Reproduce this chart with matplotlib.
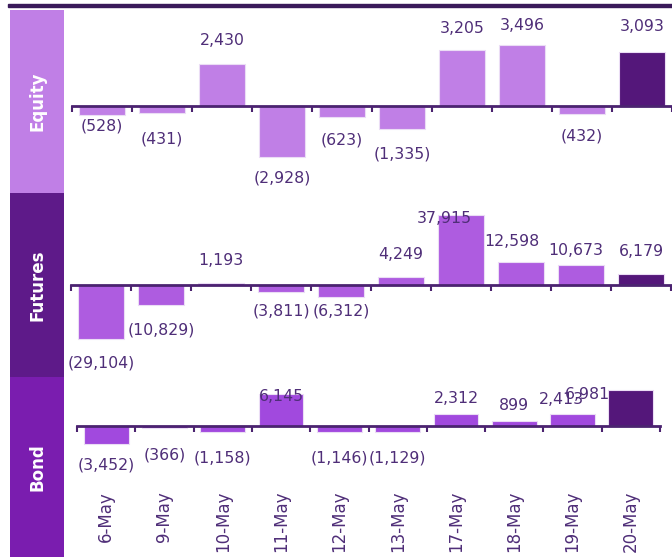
import matplotlib.pyplot as plt
from matplotlib.patches import Rectangle

dates = ['6-May', '9-May', '10-May', '11-May', '12-May',
         '13-May', '17-May', '18-May', '19-May', '20-May']
equity = [-528, -431, 2430, -2928, -623, -1335, 3205, 3496, -432, 3093]
futures = [-29104, -10829, 1193, -3811, -6312, 4249, 37915, 12598, 10673, 6179]
bond = [-3452, -366, -1158, 6145, -1146, -1129, 2312, 899, 2413, 6981]

W, H = 672, 557
TXT = '#4F2E78'
AXC = '#4B2370'
DARK = '#54177A'


def box(x0, y0, x1, y1):
    # pixel box (top-left origin) -> figure fraction rect
    return [x0 / W, 1 - y1 / H, (x1 - x0) / W, (y1 - y0) / H]


def fmt(v):
    return '({:,})'.format(-v) if v < 0 else '{:,}'.format(v)


fig = plt.figure(figsize=(W / 100, H / 100), dpi=100)

# top rule (title is cut off in the original)
fig.patches.append(Rectangle((8 / W, 1 - 7 / H), 664 / W, 3 / H,
                             transform=fig.transFigure, color='#3A1A5A'))

# side panels
panels = [('Equity', 10, 193, '#C07FE6'),
          ('Futures', 193, 377, '#5E1A89'),
          ('Bond', 377, 557, '#7A1DAF')]
for name, y0, y1, col in panels:
    pa = fig.add_axes(box(10, y0, 64, y1))
    pa.set_facecolor(col)
    pa.set_xticks([]); pa.set_yticks([])
    for s in pa.spines.values():
        s.set_visible(False)
    pa.text(0.5, 0.5, name, rotation=90, color='white', fontsize=12,
            fontweight='bold', ha='center', va='center', transform=pa.transAxes)

# label offsets in pixels (dx, dy from bar end), like the original placement
eq_off = [(0, -11), (0, -26), (0, 23), (0, -21), (0, -23), (0, -25),
          (0, 22), (0, 20), (0, -22), (0, 26)]
fu_off = [(0, -24), (0, -25), (0, 22), (0, -19), (0, -14), (0, 23),
          (-17, -3), (-9, 20), (-5, 15), (0, 22)]
bo_off = [(0, -21), (0, -27), (0, -26), (0, -2), (0, -26), (0, -26),
          (0, 16), (0, 16), (-11, 14), (-43, -5)]

rows = [
    (equity, (72, 19, 672, 193), 5000, '#C07FE6', eq_off),
    (futures, (71, 193, 671, 377), 50000, '#AE5CE0', fu_off),
    (bond, (77, 377, 660, 475), 9500, '#A149DE', bo_off),
]

x = list(range(len(dates)))
for i, (vals, bx, lim, col, offs) in enumerate(rows):
    ax = fig.add_axes(box(*bx))
    ax.patch.set_alpha(0)
    colors = [col] * (len(vals) - 1) + [DARK]
    ax.bar(x, vals, width=0.77, color=colors, edgecolor='#EBDDF5', linewidth=0.8, zorder=2)
    ax.set_xlim(-0.5, len(vals) - 0.5)
    ax.set_ylim(-lim, lim)
    for s in ['top', 'right', 'left']:
        ax.spines[s].set_visible(False)
    ax.spines['bottom'].set_position(('data', 0))
    ax.spines['bottom'].set_color(AXC)
    ax.spines['bottom'].set_linewidth(2)
    ax.spines['bottom'].set_zorder(3)
    ax.set_yticks([])
    ax.set_xticks([k - 0.5 for k in range(len(vals) + 1)])
    ax.tick_params(axis='x', direction='out', length=4.5, width=1.5, color=AXC,
                   labelbottom=False)
    for k, v in enumerate(vals):
        dx, dy = offs[k]
        ax.annotate(fmt(v), (k, v), xytext=(dx, dy), textcoords='offset pixels',
                    ha='center', va='center', color=TXT, fontsize=11.3,
                    annotation_clip=False, zorder=4)
    if i == 2:
        # date labels below the plot area
        for k, d in enumerate(dates):
            ax.annotate(d, (k, -lim), xytext=(0, -16), textcoords='offset pixels',
                        rotation=90, ha='center', va='top', color=TXT,
                        fontsize=12, annotation_clip=False)

fig.savefig('out.png', dpi=100)
